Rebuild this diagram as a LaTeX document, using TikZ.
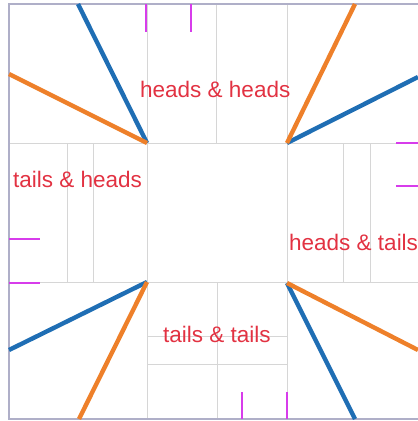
\documentclass[tikz,border=0pt]{standalone}
\usepackage{fontspec}
\setmainfont{Liberation Sans}
\definecolor{gridgray}{RGB}{214,214,214}
\definecolor{framegray}{RGB}{175,175,200}
\definecolor{tabblue}{RGB}{31,110,180}
\definecolor{taborange}{RGB}{238,128,42}
\definecolor{tickmag}{RGB}{215,60,235}
\definecolor{labred}{RGB}{226,50,66}
\begin{document}
\begin{tikzpicture}[x=1pt,y=-1pt,
  gridline/.style={draw=gridgray,line width=1pt},
  blueline/.style={draw=tabblue,line width=4.4pt},
  orangeline/.style={draw=taborange,line width=4.4pt},
  tickline/.style={draw=tickmag,line width=2.6pt},
  lab/.style={text=labred,font=\fontsize{22.5}{26}\selectfont,inner sep=0pt,anchor=base west}]
\useasboundingbox (0,0) rectangle (418,421);
\clip (0,0) rectangle (418,421);
% corners
\coordinate (tl) at (147,143);
\coordinate (tr) at (287,143);
\coordinate (bl) at (147,282);
\coordinate (br) at (287,283);
% grid lines
\draw[gridline] (9,143) -- (418,143);
\draw[gridline] (9,282) -- (418,282);
\draw[gridline] (147,4) -- (147,419);
\draw[gridline] (287,4) -- (287,419);
\draw[gridline] (67,143) -- (67,282);
\draw[gridline] (93,143) -- (93,282);
\draw[gridline] (343,143) -- (343,282);
\draw[gridline] (370,143) -- (370,282);
\draw[gridline] (216,4) -- (216,143);
\draw[gridline] (217,282) -- (217,419);
\draw[gridline] (147,336) -- (287,336);
\draw[gridline] (147,364) -- (287,364);
% frame
\draw[draw=framegray,line width=1.2pt] (418,4) -- (9,4) -- (9,419) -- (418,419);
% magenta ticks
\draw[tickline] (146,4) -- (146,32);
\draw[tickline] (191,4) -- (191,32);
\draw[tickline] (396,143) -- (418,143);
\draw[tickline] (396,186) -- (418,186);
\draw[tickline] (9,239) -- (40,239);
\draw[tickline] (9,283) -- (40,283);
\draw[tickline] (242,392) -- (242,419);
\draw[tickline] (287,392) -- (287,419);
% end points
\coordinate (tlb) at (78,4);
\coordinate (tlo) at (9,74);
\coordinate (tro) at (355,4);
\coordinate (trb) at (418,77);
\coordinate (blb) at (9,350);
\coordinate (blo) at (79,419);
\coordinate (bro) at (418,350);
\coordinate (brb) at (355,419);
% colored lines
\draw[blueline] (tl) -- (tlb);
\draw[orangeline] (tl) -- (tlo);
\draw[blueline] (tr) -- (trb);
\draw[orangeline] (tr) -- (tro);
\draw[blueline] (bl) -- (blb);
\draw[orangeline] (bl) -- (blo);
\draw[blueline] (br) -- (brb);
\draw[orangeline] (br) -- (bro);
% labels
\node[lab] (hh) at (140,97) {heads \& heads};
\node[lab] (th) at (13,187) {tails \& heads};
\node[lab] (ht) at (289,250) {heads \& tails};
\node[lab] (tt) at (163,342) {tails \& tails};
\end{tikzpicture}
\end{document}
